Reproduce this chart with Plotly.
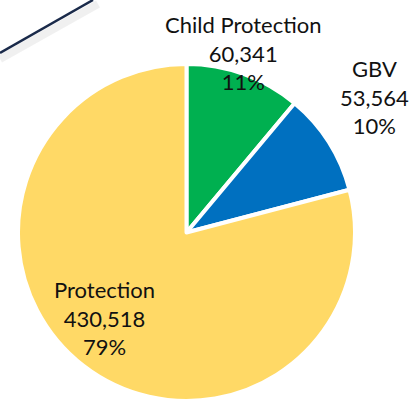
import plotly.graph_objects as go

categories = ["Child Protection", "GBV", "Protection"]
values = [60341, 53564, 430518]
colors = ["#00B050", "#0070C0", "#FFD966"]

total = sum(values)
pcts = [round(v / total * 100) for v in values]
label_text = [f"{c}<br>{v:,}<br>{p}%" for c, v, p in zip(categories, values, pcts)]

fig = go.Figure()
fig.add_trace(go.Pie(
    labels=categories,
    values=values,
    marker=dict(colors=colors, line=dict(color="white", width=4)),
    sort=False,
    direction="clockwise",
    rotation=0,
    textinfo="none",
    hoverinfo="label+value+percent",
    showlegend=False,
    domain=dict(x=[18/414, 355/414], y=[1 - 401/403, 1 - 64/403]),
))

label_pos = [(244, 53), (374, 97), (104, 318)]
for txt, (x, y) in zip(label_text, label_pos):
    fig.add_annotation(
        x=x/414, y=1 - y/403, xref="paper", yref="paper",
        text=txt, showarrow=False, align="center",
        xanchor="center", yanchor="middle",
        font=dict(family="Lato, Open Sans, sans-serif", size=22, color="#111111"),
    )

# decorative line top-left with soft shadow
fig.add_shape(type="line", xref="paper", yref="paper",
              x0=0, y0=1 - 59/403, x1=98/414, y1=1 - 4/403,
              line=dict(color="rgba(0,0,0,0.06)", width=8))
fig.add_shape(type="line", xref="paper", yref="paper",
              x0=0, y0=1 - 53/403, x1=93/414, y1=1,
              line=dict(color="#1a2a4a", width=2.5))

fig.update_layout(
    width=414, height=403,
    margin=dict(l=0, r=0, t=0, b=0),
    paper_bgcolor="white", plot_bgcolor="white",
)
fig.write_html("out.html", config={"displayModeBar": False},
               post_script="document.body.style.margin='0';document.body.style.overflow='hidden';")
